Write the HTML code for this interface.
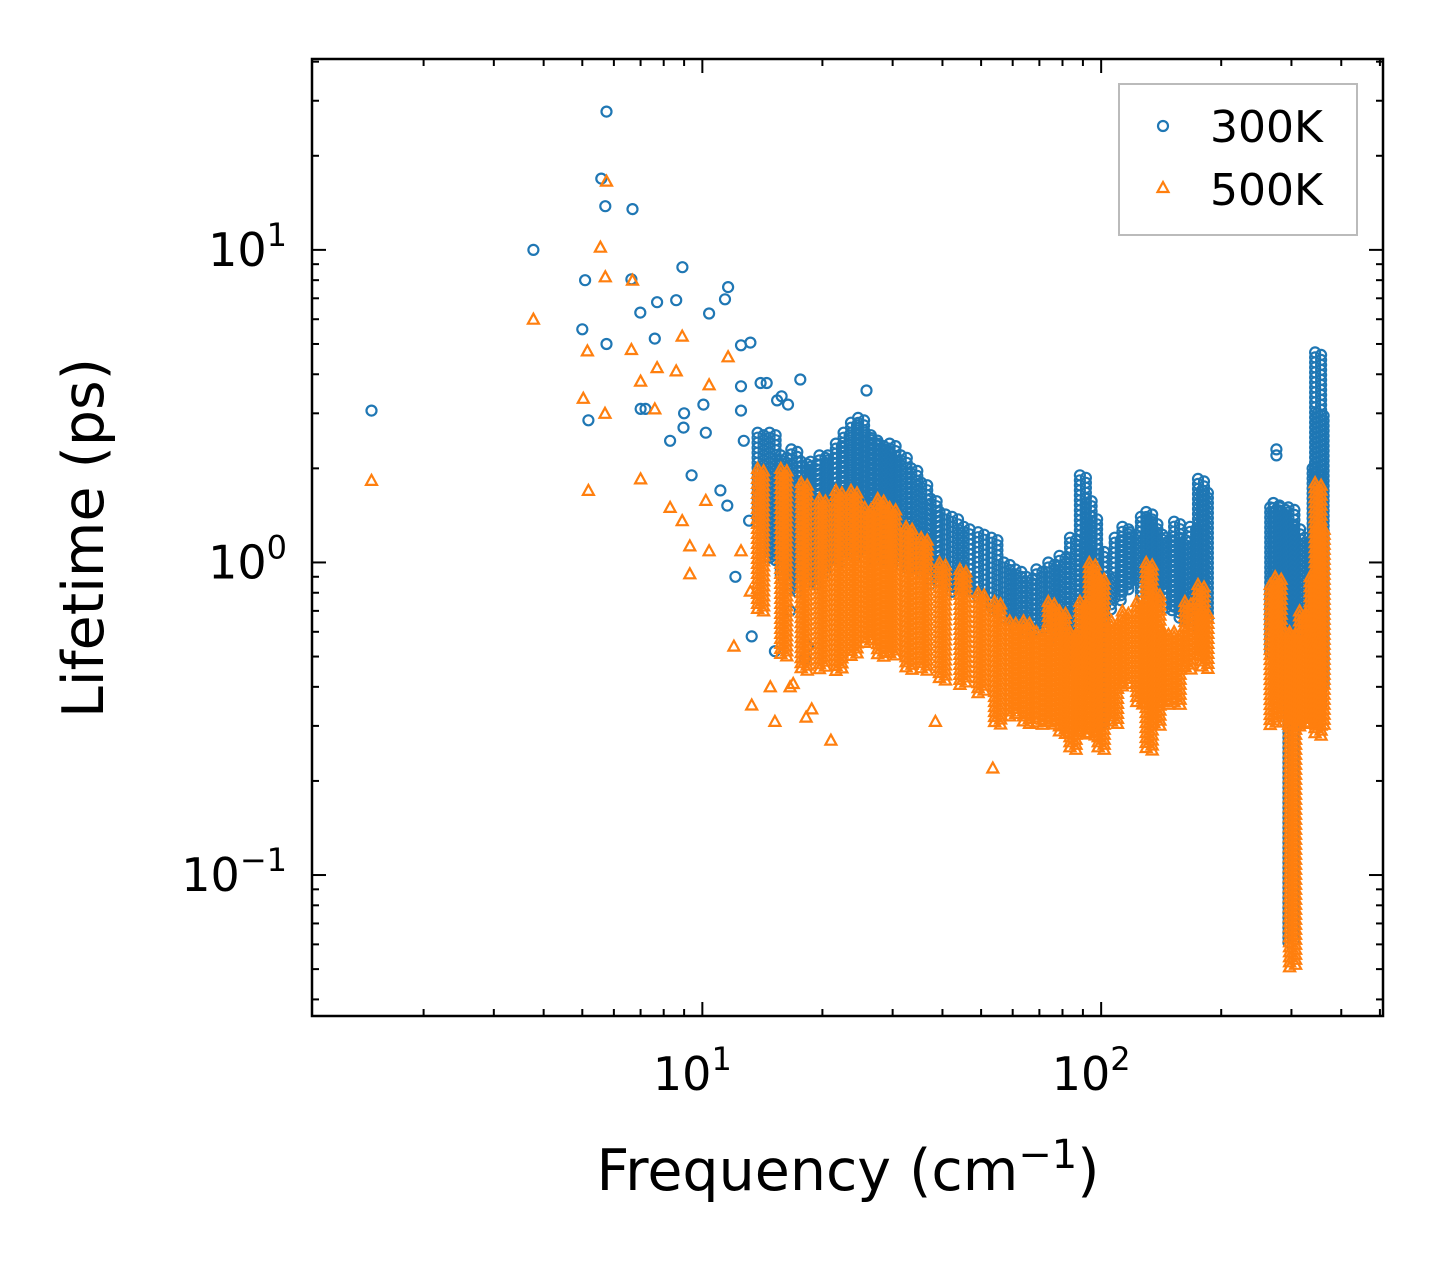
<!DOCTYPE html>
<html><head><meta charset="utf-8"><style>
html,body{margin:0;padding:0;background:#fff;}
svg{display:block;font-family:"DejaVu Sans","Liberation Sans",sans-serif;}
</style></head><body>
<svg id="chart" width="1442" height="1265" viewBox="0 0 1442 1265" xmlns="http://www.w3.org/2000/svg">
<rect x="0" y="0" width="1442" height="1265" fill="#fff"/>
<g id="marks"></g>
<g id="axes"></g>
<g>
<rect x="1119" y="84" width="238" height="151" fill="#fff" fill-opacity="0.8" stroke="#bbb" stroke-width="2"/>
<circle cx="1163" cy="126" r="5" fill="none" stroke="#1f77b4" stroke-width="2.2"/>
<text x="1210" y="142" font-size="44">300K</text>
<polygon points="1163,182 1168.5,192 1157.5,192" fill="none" stroke="#ff7f0e" stroke-width="2.2"/>
<text x="1210" y="205" font-size="44">500K</text>
</g>
<text x="848" y="1190" font-size="57" text-anchor="middle">Frequency (cm<tspan dy="-22" font-size="40">−1</tspan><tspan dy="22">)</tspan></text>
<text x="0" y="0" font-size="57" text-anchor="middle" transform="translate(103,538) rotate(-90)">Lifetime (ps)</text>
</svg>
<script>
// isolated points [freq, lifetime]
const blueFreq=[1.48,3.77,5.75,5.58,5.71,6.68,5.08,6.64,8.91,11.6,11.4,10.4,7.7,6.99,8.6,5.0,5.75,7.6,12.5,13.2,5.18,7.0,7.2,17.6,14.5,14.0,12.5,8.3,9.0,8.97,9.4,10.06,10.2,12.5,15.4,15.8,16.4,25.8,12.7,12.1,13.3,14.4,13.1,11.1,11.55,14.0,18.1,18.4,16.6,15.2,275,275];
const blueLife=[3.06,10.0,27.7,16.9,13.8,13.5,8.0,8.05,8.8,7.6,6.95,6.26,6.8,6.3,6.9,5.57,5.0,5.2,4.95,5.05,2.85,3.1,3.1,3.85,3.75,3.75,3.66,2.45,3.0,2.7,1.9,3.2,2.6,3.06,3.3,3.4,3.2,3.55,2.45,0.9,0.58,1.36,1.36,1.7,1.52,1.7,0.49,0.54,0.7,0.52,2.2,2.3];
const orangeFreq=[1.48,3.77,5.75,5.55,5.71,6.68,5.7,5.03,5.15,5.18,6.64,7.0,7.0,7.7,7.6,8.6,8.9,8.3,8.9,9.3,9.3,11.6,10.4,10.2,10.4,12.5,12.0,13.2,13.3,14.8,15.2,16.6,16.9,21,18.2,18.8,38.4,53.5];
const orangeLife=[1.83,6.0,16.6,10.2,8.2,8.0,3.0,3.35,4.75,1.7,4.8,3.8,1.85,4.2,3.1,4.1,5.3,1.5,1.36,1.13,0.92,4.55,3.7,1.58,1.09,1.09,0.54,0.81,0.35,0.4,0.31,0.4,0.41,0.27,0.32,0.34,0.31,0.22];
// dense bands: frequency, lower and upper lifetime
const blueBandFreq=[14,15,16,17,18,19,20,21,22,23,24,25,26,27,28,29,30,32,34,36,38,40,43,46,50,54,58,62,66,70,75,80,85,90,93,96,100,104,110,115,120,128,132,136,140,148,155,160,170,178,182,270,275,285,300,310,330,345,350,355];
const blueBandLo=[1.3,1.0,0.9,0.8,0.9,0.85,0.9,1.0,1.0,1.05,1.05,1.1,1.1,1.0,1.0,1.0,1.0,0.95,0.95,0.9,0.85,0.85,0.8,0.8,0.75,0.7,0.65,0.6,0.6,0.6,0.6,0.55,0.45,0.5,0.5,0.4,0.3,0.7,0.75,0.8,0.85,0.75,0.8,0.75,0.8,0.7,0.7,0.65,0.7,0.6,0.65,0.5,0.6,0.6,0.06,0.6,0.5,0.4,0.35,0.4];
const blueBandHi=[2.6,2.6,2.2,2.3,2.1,2.1,2.2,2.2,2.4,2.6,2.8,2.9,2.6,2.5,2.4,2.3,2.4,2.2,2.0,1.8,1.6,1.45,1.4,1.3,1.25,1.2,1.0,0.95,0.9,0.95,1.0,1.05,1.2,1.9,1.6,1.4,1.1,0.9,1.2,1.3,1.25,1.4,1.45,1.35,1.25,1.2,1.35,1.2,1.3,1.85,1.7,1.5,1.55,1.5,1.5,1.3,1.2,2.0,4.7,3.0];
const orangeBandFreq=[14,16,18,20,22,24,26,28,30,33,36,40,45,50,55,60,65,70,75,80,85,90,95,100,108,115,125,132,138,145,155,165,178,182,270,278,290,302,320,340,350,356];
const orangeBandLo=[0.7,0.5,0.45,0.45,0.45,0.5,0.55,0.5,0.5,0.45,0.45,0.42,0.4,0.38,0.3,0.32,0.3,0.3,0.3,0.28,0.25,0.28,0.28,0.25,0.3,0.4,0.35,0.25,0.3,0.35,0.35,0.45,0.5,0.45,0.3,0.35,0.3,0.05,0.3,0.3,0.28,0.3];
const orangeBandHi=[2.0,2.0,1.8,1.6,1.7,1.7,1.5,1.6,1.5,1.3,1.2,1.0,0.95,0.8,0.75,0.65,0.65,0.6,0.75,0.7,0.6,0.75,1.0,0.9,0.65,0.7,0.75,1.0,0.8,0.6,0.6,0.75,0.85,0.7,0.85,0.9,0.6,0.6,0.7,0.9,1.8,1.3];
const xMajor=[10,100],xMajorLbl=['1','2'];
const yMajor=[0.1,1,10],yMajorLbl=['−1','0','1'];

const X0=312,X1=1383,Y0=59,Y1=1016;
const xmin=Math.log10(1.05),xmax=Math.log10(509),ymin=Math.log10(0.0354),ymax=Math.log10(40.8);
const xs=v=>X0+(Math.log10(v)-xmin)/(xmax-xmin)*(X1-X0);
const ys=v=>Y1-(Math.log10(v)-ymin)/(ymax-ymin)*(Y1-Y0);
const NS='http://www.w3.org/2000/svg';
const marks=document.getElementById('marks'),axes=document.getElementById('axes');
function mk(tag,attrs,parent){const e=document.createElementNS(NS,tag);for(const k in attrs)e.setAttribute(k,attrs[k]);parent.appendChild(e);return e;}
const gB=mk('g',{fill:'none',stroke:'#1f77b4','stroke-width':2.2},marks);


const gO=mk('g',{fill:'none',stroke:'#ff7f0e','stroke-width':2.2},marks);


function circ(px,py){const c=mk('circle',{cx:px.toFixed(1),cy:py.toFixed(1),r:5},gB);

}
function tri(px,py){const p=mk('polygon',{points:`${px.toFixed(1)},${(py-5.5).toFixed(1)} ${(px+5.5).toFixed(1)},${(py+4.5).toFixed(1)} ${(px-5.5).toFixed(1)},${(py+4.5).toFixed(1)}`},gO);

}
function band(F,L,H,fn){for(let i=0;i<F.length;i++){const px=xs(F[i]);const top=ys(H[i]),bot=ys(L[i]);
for(const dx of [-3,3]){for(let py=top+(dx>0?2.5:0);py<=bot;py+=5)fn(px+dx,py);}}}
band(blueBandFreq,blueBandLo,blueBandHi,circ);
blueFreq.forEach((f,i)=>circ(xs(f),ys(blueLife[i])));
band(orangeBandFreq,orangeBandLo,orangeBandHi,tri);
orangeFreq.forEach((f,i)=>tri(xs(f),ys(orangeLife[i])));

const fr=mk('rect',{x:X0,y:Y0,width:X1-X0,height:Y1-Y0,fill:'none',stroke:'#000','stroke-width':2.5},axes);


function tick(x1,y1,x2,y2){const l=mk('line',{x1,y1,x2,y2,stroke:'#000','stroke-width':2},axes);

}
for(let d=0;d<=3;d++)for(let m=1;m<=9;m++){const v=m*Math.pow(10,d);if(v<1.05||v>509)continue;const x=xs(v);const L=(m===1)?14:7;tick(x,Y1,x,Y1-L);tick(x,Y0,x,Y0+L);}
for(let d=-2;d<=1;d++)for(let m=1;m<=9;m++){const v=m*Math.pow(10,d);if(v<0.0354||v>40.8)continue;const y=ys(v);const L=(m===1)?14:7;tick(X0,y,X0+L,y);tick(X1,y,X1-L,y);}
xMajor.forEach((v,i)=>{const t=mk('text',{x:xs(v)-10,y:1090,'font-size':46,'text-anchor':'middle'},axes);


t.innerHTML=`10<tspan dy="-20" font-size="32">${xMajorLbl[i]}</tspan>`;});
yMajor.forEach((v,i)=>{const t=mk('text',{x:287,y:ys(v)+16,'font-size':46,'text-anchor':'end'},axes);


t.innerHTML=`10<tspan dy="-20" font-size="32">${yMajorLbl[i]}</tspan>`;});
</script>
</body></html>
